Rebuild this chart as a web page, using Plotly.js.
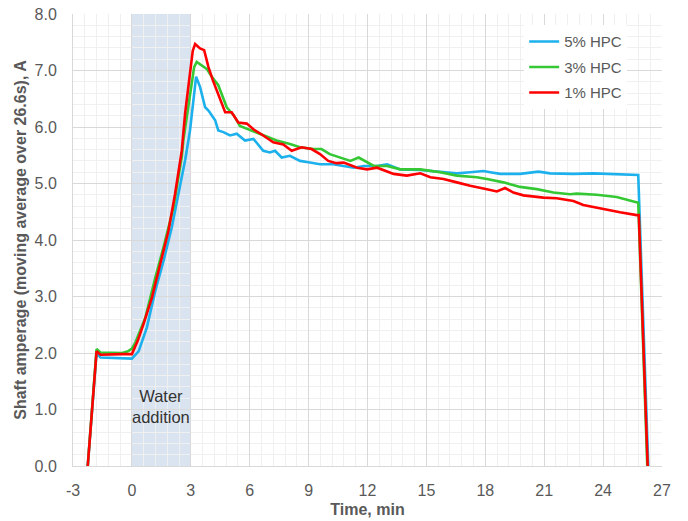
<!DOCTYPE html>
<html>
<head>
<meta charset="utf-8">
<script src="https://cdn.plot.ly/plotly-3.0.1.min.js"></script>
<style>html,body{margin:0;padding:0;background:#fff;}#chart{width:688px;height:521px;}</style>
</head>
<body>
<div id="chart"></div>
<script>
// 5% HPC (blue)
const t5 = [-2.25, -1.8, -1.6, -1.0, -0.5, 0, 0.34, 0.76, 1.19, 1.61, 2.03, 2.37, 2.72, 2.96, 3.13, 3.27, 3.47, 3.73, 3.9, 4.24, 4.4, 4.66, 5.0, 5.34, 5.76, 6.19, 6.69, 7.03, 7.29, 7.63, 8.05, 8.56, 9.07, 9.58, 10.25, 10.79, 11.3, 11.81, 12.49, 13.0, 13.67, 14.69, 15.54, 16.55, 17.23, 17.91, 18.25, 18.76, 19.77, 20.71, 21.3, 22.49, 23.5, 24.35, 25.2, 25.79, 26.3];
const v5 = [0, 2.0, 1.92, 1.91, 1.90, 1.90, 2.03, 2.45, 3.1, 3.63, 4.22, 4.82, 5.43, 5.94, 6.53, 6.89, 6.71, 6.35, 6.29, 6.12, 5.94, 5.91, 5.85, 5.88, 5.76, 5.79, 5.58, 5.55, 5.58, 5.46, 5.49, 5.40, 5.37, 5.34, 5.34, 5.31, 5.28, 5.31, 5.31, 5.34, 5.25, 5.24, 5.21, 5.18, 5.20, 5.22, 5.20, 5.17, 5.17, 5.21, 5.18, 5.17, 5.18, 5.17, 5.15, 5.15, 0];

// 3% HPC (green)
const t3 = [-2.25, -1.8, -1.6, -1.0, -0.5, -0.2, 0, 0.17, 0.68, 1.19, 1.61, 2.12, 2.54, 2.62, 2.93, 3.17, 3.3, 3.56, 3.81, 4.07, 4.4, 4.83, 5.2, 5.5, 5.93, 6.4, 6.9, 7.37, 8.05, 8.56, 9.24, 9.66, 10.08, 10.79, 11.13, 11.55, 11.89, 12.32, 13.0, 13.67, 14.69, 15.7, 16.55, 17.57, 18.08, 18.92, 19.77, 20.62, 21.47, 22.32, 22.66, 23.67, 24.69, 25.37, 25.79, 26.25];
const v3 = [0, 2.07, 2.01, 2.0, 2.0, 2.03, 2.08, 2.18, 2.62, 3.33, 3.87, 4.58, 5.47, 5.76, 6.53, 7.06, 7.15, 7.09, 7.03, 6.89, 6.74, 6.35, 6.2, 6.02, 5.96, 5.9, 5.82, 5.76, 5.70, 5.64, 5.61, 5.61, 5.52, 5.43, 5.40, 5.46, 5.40, 5.31, 5.31, 5.25, 5.25, 5.20, 5.14, 5.11, 5.08, 5.02, 4.94, 4.90, 4.84, 4.81, 4.82, 4.80, 4.76, 4.70, 4.66, 0];

// 1% HPC (red)
const t1 = [-2.25, -1.8, -1.6, -1.0, -0.5, 0, 0.08, 0.3, 0.59, 1.02, 1.44, 1.86, 2.2, 2.54, 2.71, 2.96, 3.1, 3.22, 3.35, 3.47, 3.68, 3.9, 4.12, 4.45, 4.75, 5.08, 5.42, 5.85, 6.19, 6.69, 7.2, 7.71, 8.14, 8.64, 9.15, 9.58, 10.0, 10.42, 10.79, 11.47, 11.98, 12.49, 13.33, 14.0, 14.69, 15.2, 15.87, 16.55, 17.23, 18.08, 18.59, 19.01, 19.43, 19.94, 20.96, 21.64, 22.49, 22.99, 23.67, 24.18, 24.86, 25.71, 25.82, 26.27];
const v1 = [0, 2.03, 1.97, 1.98, 1.98, 1.98, 2.05, 2.22, 2.51, 2.98, 3.57, 4.16, 4.82, 5.58, 6.24, 7.0, 7.35, 7.47, 7.43, 7.39, 7.36, 7.06, 6.83, 6.53, 6.26, 6.26, 6.08, 6.06, 5.96, 5.85, 5.73, 5.69, 5.58, 5.64, 5.61, 5.52, 5.40, 5.36, 5.37, 5.28, 5.25, 5.28, 5.17, 5.14, 5.18, 5.11, 5.08, 5.02, 4.96, 4.90, 4.86, 4.92, 4.84, 4.79, 4.75, 4.74, 4.69, 4.62, 4.57, 4.53, 4.49, 4.44, 4.44, 0];

const seriesNames = ['5% HPC', '3% HPC', '1% HPC'];
const xTicks = [-3, 0, 3, 6, 9, 12, 15, 18, 21, 24, 27];
const yTicks = [0, 1, 2, 3, 4, 5, 6, 7, 8];
const waterStart = 0, waterEnd = 3;
const waterLabel = 'Water<br>addition';

const FONT = "'Liberation Sans', Arial, sans-serif";
const colors = ['#1cb0ec', '#35c834', '#ff0000'];

const traces = [[t5, v5], [t3, v3], [t1, v1]].map((d, i) => ({
  x: d[0], y: d[1], type: 'scatter', mode: 'lines', name: seriesNames[i],
  legendgroup: 'g' + i,
  line: {color: colors[i], width: 2.6}
}));

const layout = {
  width: 688, height: 521,
  margin: {l: 73, r: 26, t: 14, b: 55},
  paper_bgcolor: '#ffffff', plot_bgcolor: '#ffffff',
  font: {family: FONT, color: '#595959', size: 16},
  showlegend: true,
  legend: {x: 0.766, y: 0.975, xanchor: 'left', yanchor: 'top', bgcolor: '#ffffff',
           font: {family: FONT, size: 15, color: '#595959'}, traceorder: 'grouped', tracegroupgap: 3},
  xaxis: {
    range: [-3, 27], tickvals: xTicks, ticktext: xTicks.map(String),
    showgrid: true, gridcolor: '#d9d9d9', gridwidth: 1,
    minor: {dtick: 0.6, tick0: -3, showgrid: true, gridcolor: '#f0f0f0', gridwidth: 1},
    zeroline: false, showline: true, linecolor: '#d9d9d9', ticks: '',
    ticklabelstandoff: 10,
    tickfont: {family: FONT, size: 16, color: '#595959'},
    title: {text: '<b>Time, min</b>', font: {family: FONT, size: 16, color: '#595959'}, standoff: 5}
  },
  yaxis: {
    range: [0, 8], tickvals: yTicks, ticktext: yTicks.map(v => v.toFixed(1)),
    showgrid: true, gridcolor: '#d9d9d9', gridwidth: 1,
    minor: {dtick: 0.2, tick0: 0, showgrid: true, gridcolor: '#f0f0f0', gridwidth: 1},
    zeroline: false, showline: true, linecolor: '#d9d9d9', ticks: '',
    ticklabelstandoff: 12,
    tickfont: {family: FONT, size: 16, color: '#595959'},
    title: {text: '<b>Shaft amperage (moving average over 26.6s), A</b>', font: {family: FONT, size: 16, color: '#595959'}, standoff: 3}
  },
  shapes: [{type: 'rect', xref: 'x', yref: 'y', x0: waterStart, x1: waterEnd, y0: 0, y1: 8,
            fillcolor: '#dae3f0', line: {width: 0}, layer: 'below'}],
  annotations: [{x: (waterStart + waterEnd) / 2, y: 1.05, xref: 'x', yref: 'y', text: waterLabel,
                 showarrow: false, font: {family: FONT, size: 16.5, color: '#333333'}, align: 'center'}]
};

Plotly.newPlot('chart', traces, layout, {displayModeBar: false, staticPlot: true});
</script>
</body>
</html>
